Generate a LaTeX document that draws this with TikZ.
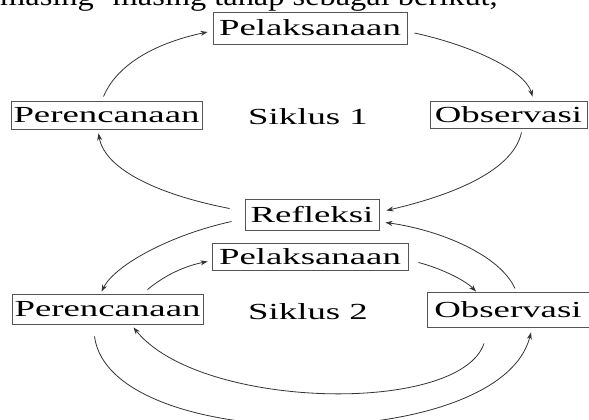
\documentclass[tikz,border=0pt]{standalone}
\usepackage{fontspec}
\setmainfont{Liberation Serif}
\newfontfamily\labfont[FakeStretch=1.6]{Liberation Serif}
\newfontfamily\topfont[FakeStretch=1.2]{Liberation Serif}
\usetikzlibrary{arrows.meta,calc}
\definecolor{linegray}{HTML}{333333}
\definecolor{boxgray}{HTML}{555555}
\begin{document}
\begin{tikzpicture}[x=1pt,y=-1pt,
  stagebox/.style={draw=boxgray,line width=0.9pt,inner sep=0pt,fill=white,
    font=\labfont\fontsize{23}{23}\selectfont,text=black},
  cyclelabel/.style={inner sep=0pt,font=\labfont\fontsize{23}{23}\selectfont},
  flow/.style={draw=linegray,line width=0.8pt,-{Stealth[length=7pt,width=5pt]}},
  flowplain/.style={draw=linegray,line width=0.8pt}]
\useasboundingbox (0,0) rectangle (589,420);
\clip (0,0) rectangle (589,420);
\fill[white] (0,0) rectangle (589,420);
% heading (cut by the top edge)
\node[anchor=base west,inner sep=0pt,font=\topfont\fontsize{27}{27}\selectfont] (head) at (0,6) {masing- masing tahap sebagai berikut,};
% cycle 1
\node[stagebox,minimum width=194pt,minimum height=32pt] (P1) at (310,28) {Pelaksanaan};
\node[stagebox,minimum width=191pt,minimum height=28pt] (R1) at (106.5,115) {Perencanaan};
\node[stagebox,minimum width=157pt,minimum height=27pt] (O1) at (508.5,114.5) {Observasi};
\node[cyclelabel] (S1) at (308,117) {Siklus 1};
\node[stagebox,minimum width=134pt,minimum height=31pt] (Ref) at (312,214.5) {Refleksi};
% cycle 2
\node[stagebox,minimum width=196pt,minimum height=27pt] (P2) at (310,256.5) {Pelaksanaan};
\node[stagebox,minimum width=191pt,minimum height=30pt] (R2) at (107.5,309) {Perencanaan};
\node[stagebox,minimum width=162pt,minimum height=35pt] (O2) at (508,309.5) {Observasi};
\node[cyclelabel] (S2) at (308,312) {Siklus 2};
% cycle 1 arrows
\draw[flow] ($(R1.north)+(-3,-4)$) .. controls (118,62) and (160,42) .. ($(P1.west)+(-5,4)$);
\draw[flow] ($(P1.east)+(7,5)$) .. controls (470,45) and (525,70) .. ($(O1.north)+(24,-4)$);
\draw[flow] ($(O1.south)+(13,4)$) .. controls (512,175) and (440,198) .. ($(Ref.east)+(7,-4)$);
\draw[flow] ($(Ref.west)+(-15,-6)$) .. controls (160,195) and (105,170) .. ($(R1.south)+(-8,4)$);
% cycle 2 arrows
\draw[flow] ($(Ref.west)+(-13,7)$) .. controls (170,235) and (115,265) .. ($(R2.north)+(-6,-2)$);
\draw[flow] ($(R2.north)+(40,-4)$) .. controls (165,275) and (185,266) .. ($(P2.west)+(-4,5)$);
\draw[flow] ($(P2.east)+(10,6)$) .. controls (440,268) and (465,280) .. ($(O2.north)+(-32,0)$);
\draw[flow] ($(O2.north)+(7,-3)$) .. controls (500,255) and (440,230) .. ($(Ref.east)+(6,8)$);
\draw[flow] ($(O2.south)+(-24,16)$) .. controls (460,415) and (200,410) .. ($(R2.south)+(26,3)$);
\draw[flow] ($(R2.south)+(-13,12)$) .. controls (110,455) and (500,455) .. ($(O2.south)+(23,5)$);
\end{tikzpicture}
\end{document}
